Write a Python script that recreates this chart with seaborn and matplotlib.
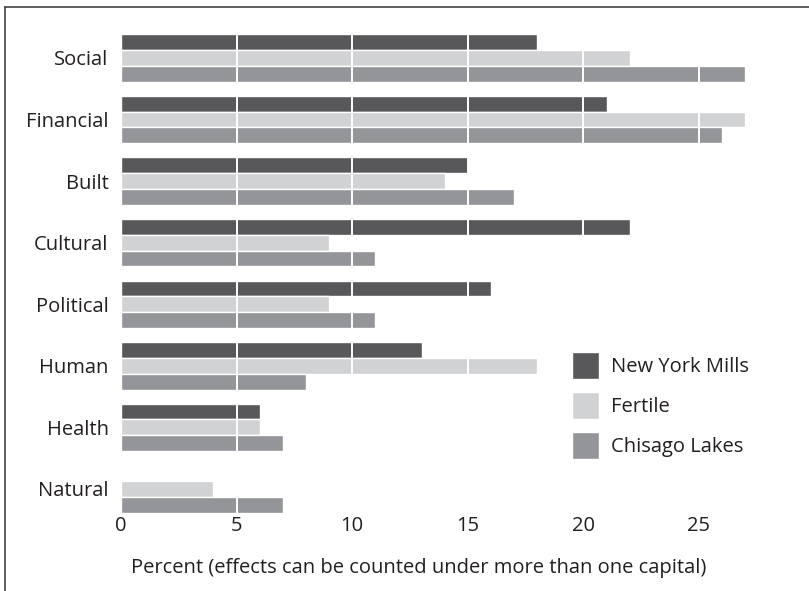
import pandas as pd
import matplotlib
matplotlib.use("Agg")
import matplotlib.pyplot as plt
import seaborn as sns

# data (percent)
capitals = ["Social", "Financial", "Built", "Cultural", "Political", "Human", "Health", "Natural"]
communities = ["New York Mills", "Fertile", "Chisago Lakes"]
new_york_mills = [18, 21, 15, 22, 16, 13, 6, 0]
fertile = [22, 27, 14, 9, 9, 18, 6, 4]
chisago_lakes = [27, 26, 17, 11, 11, 8, 7, 7]
colors = ["#58585a", "#d1d2d4", "#939598"]

rows = []
for name, vals in zip(communities, [new_york_mills, fertile, chisago_lakes]):
    for cap, v in zip(capitals, vals):
        rows.append({"capital": cap, "community": name, "percent": v})
df = pd.DataFrame(rows)

sns.set_style("white")
plt.rcParams["font.family"] = ["Open Sans", "DejaVu Sans"]
fs = 14.5
plt.rcParams["font.size"] = fs
text_color = "#231f20"

fig = plt.figure(figsize=(8.09, 5.91), dpi=100)
ax = fig.add_axes([121 / 809, 1 - 513.6 / 591, (28 * 23.12) / 809, (513.6 - 21) / 591])

sns.barplot(data=df, y="capital", x="percent", hue="community", order=capitals,
            hue_order=communities, palette=colors, width=0.77, orient="h",
            edgecolor="white", linewidth=1, saturation=1, ax=ax)

ax.set_xlim(0, 28)
ax.set_ylim(7.4, -0.6)
ax.set_xticks([0, 5, 10, 15, 20, 25])
for x in [5, 10, 15, 20, 25]:
    ax.axvline(x, color="white", lw=1.4, zorder=5)

for s in ax.spines.values():
    s.set_visible(False)
ax.tick_params(axis="both", length=0, colors=text_color, labelsize=fs)
ax.tick_params(axis="y", pad=9)
ax.tick_params(axis="x", pad=2)
ax.set_ylabel("")
ax.set_xlabel("Percent (effects can be counted under more than one capital)",
              color=text_color, fontsize=fs)
# label sits a bit left of the axes centre in the original
ax.xaxis.set_label_coords(0.46, -0.09)

handles, labels = ax.get_legend_handles_labels()
ax.legend(handles, labels, loc="upper left",
          bbox_to_anchor=(572 / 809, 1 - 352 / 591), bbox_transform=fig.transFigure,
          frameon=False, borderpad=0, borderaxespad=0,
          handlelength=1.34, handleheight=1.685, handletextpad=0.6,
          labelspacing=0.65, fontsize=fs, labelcolor=text_color)

# frame lines along top and left of the figure
fig.add_artist(plt.Line2D([5 / 809, 1], [1 - 7 / 591, 1 - 7 / 591], color="#444444", lw=1.2))
fig.add_artist(plt.Line2D([5 / 809, 5 / 809], [0, 1 - 7 / 591], color="#444444", lw=1.2))

fig.savefig("out.png", dpi=100)
